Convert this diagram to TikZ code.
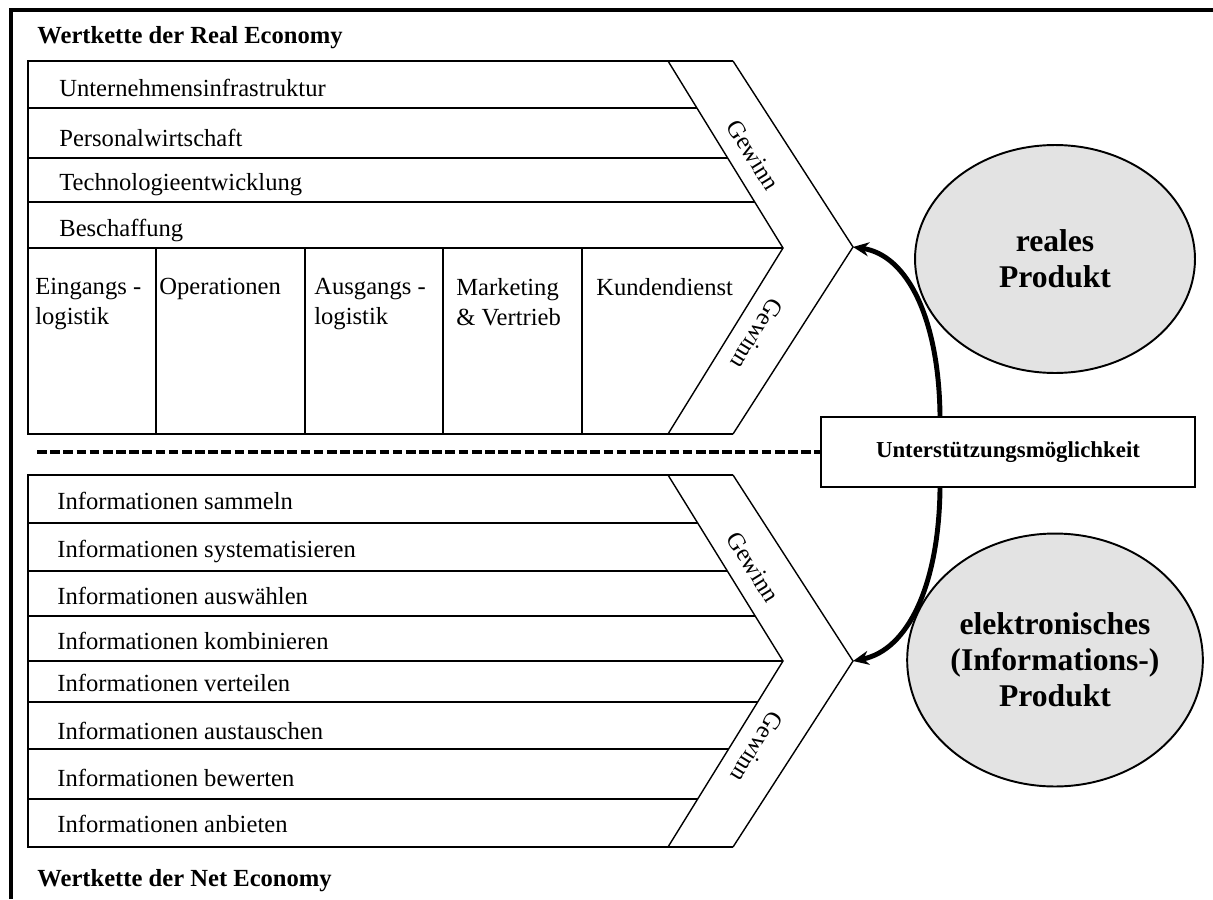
\documentclass[tikz,border=0pt]{standalone}
\usepackage{fontspec}
\setmainfont{Liberation Serif}
\usepackage{tikz}
\usetikzlibrary{arrows.meta}
\usetikzlibrary{shapes.geometric}
\definecolor{prodgray}{RGB}{227,227,227}

\begin{document}
\begin{tikzpicture}[x=0.02cm,y=-0.02cm,
		lbl/.style={anchor=base west,inner sep=0pt,font=\fontsize{14}{17}\selectfont},
		col/.style={anchor=north west,inner sep=0pt,align=left,font=\fontsize{14}{17}\selectfont},
		title/.style={anchor=base west,inner sep=0pt,font=\bfseries\fontsize{14}{17}\selectfont},
		gewinn/.style={inner sep=0pt,font=\fontsize{14}{17}\selectfont},
		prod/.style={ellipse,draw,line width=1.1pt,fill=prodgray,inner sep=0pt,align=center,font=\bfseries\fontsize{18}{20.5}\selectfont},
		supportarrow/.style={line width=2.8pt,-{Stealth[length=9pt,width=8pt]}}]
		\useasboundingbox (0,0) rectangle (1213,899);
		\draw[line width=1.8pt] (11,899) -- (11,10) -- (1213,10);
		
		% Wertkette der Real Economy
		\node[title] (realtitle) at (37,43) {Wertkette der Real Economy};
		\draw[line width=1.2pt] (733,61) -- (28,61) -- (28,434) -- (733,434);
		\draw[line width=0.8pt] (733,61) -- (853,247) -- (733,434);
		\draw[line width=0.8pt] (668,61) -- (783,248) -- (668,434);
		\draw[line width=1.2pt] (28,108) -- (697,108);
		\draw[line width=1.2pt] (28,158) -- (728,158);
		\draw[line width=1.2pt] (28,202) -- (755,202);
		\draw[line width=1.2pt] (28,248) -- (783,248);
		\draw[line width=1.2pt] (156,248) -- (156,434);
		\draw[line width=1.2pt] (305,248) -- (305,434);
		\draw[line width=1.2pt] (443,248) -- (443,434);
		\draw[line width=1.2pt] (582,248) -- (582,434);
		\coordinate (realtip) at (853,247);
		\node[lbl] (infra) at (59,96) {Unternehmensinfrastruktur};
		\node[lbl] (personal) at (59,146) {Personalwirtschaft};
		\node[lbl] (techno) at (59,190) {Technologieentwicklung};
		\node[lbl] (beschaff) at (59,236) {Beschaffung};
		\node[col] (eingang) at (35,278) {Eingangs -\\logistik};
		\node[col] (operation) at (159,278) {Operationen};
		\node[col] (ausgang) at (314,278) {Ausgangs -\\logistik};
		\node[col] (marketing) at (456,278) {Marketing\\\& Vertrieb};
		\node[col] (kunden) at (596,278) {Kundendienst};
		\node[gewinn,rotate=-58.4] (gewinnA) at (753,155) {Gewinn};
		\node[gewinn,rotate=-121.7] (gewinnB) at (757,334) {Gewinn};
		
		% Trennlinie und Unterstuetzung
		\node[draw,line width=0.9pt,minimum width=7.48cm,minimum height=1.4cm,font=\bfseries\fontsize{13}{15}\selectfont] (support) at (1008,452) {Unterstützungsmöglichkeit};
		\coordinate (dashstart) at (37,452);
		\draw[line width=2pt,dash pattern=on 5.5pt off 2pt] (dashstart) -- (support.west);
		
		% Wertkette der Net Economy
		\draw[line width=1.2pt] (733,475) -- (28,475) -- (28,847) -- (733,847);
		\draw[line width=0.8pt] (733,475) -- (853,661) -- (733,847);
		\draw[line width=0.8pt] (668,475) -- (783,661) -- (668,847);
		\draw[line width=1.2pt] (28,523) -- (698,523);
		\draw[line width=1.2pt] (28,571) -- (727,571);
		\draw[line width=1.2pt] (28,616) -- (755,616);
		\draw[line width=1.2pt] (28,661) -- (783,661);
		\draw[line width=1.2pt] (28,702) -- (758,702);
		\draw[line width=1.2pt] (28,749) -- (729,749);
		\draw[line width=1.2pt] (28,799) -- (698,799);
		\coordinate (nettip) at (853,661);
		\node[lbl] (sammeln) at (57,509) {Informationen sammeln};
		\node[lbl] (system) at (57,557) {Informationen systematisieren};
		\node[lbl] (auswahl) at (57,604) {Informationen auswählen};
		\node[lbl] (kombi) at (57,649) {Informationen kombinieren};
		\node[lbl] (verteil) at (57,691) {Informationen verteilen};
		\node[lbl] (tausch) at (57,739) {Informationen austauschen};
		\node[lbl] (bewert) at (57,786) {Informationen bewerten};
		\node[lbl] (anbiet) at (57,832) {Informationen anbieten};
		\node[gewinn,rotate=-58.4] (gewinnC) at (753,567) {Gewinn};
		\node[gewinn,rotate=-121.7] (gewinnD) at (757,747) {Gewinn};
		\node[title] (nettitle) at (37,886) {Wertkette der Net Economy};
		
		% Produkte
		\node[prod,minimum width=5.6cm,minimum height=4.56cm] (real) at (1055,259) {reales\\Produkt};
		\node[prod,minimum width=5.6cm,minimum height=5.06cm] (info) at (1055,660) {elektronisches\\(Informations-)\\Produkt};
		\draw[supportarrow] ([xshift=-1.36cm]support.north) .. controls (939,320) and (908,255) .. (realtip);
		\draw[supportarrow] ([xshift=-1.36cm]support.south) .. controls (939,585) and (908,650) .. (nettip);
		
\end{tikzpicture}
\end{document}
